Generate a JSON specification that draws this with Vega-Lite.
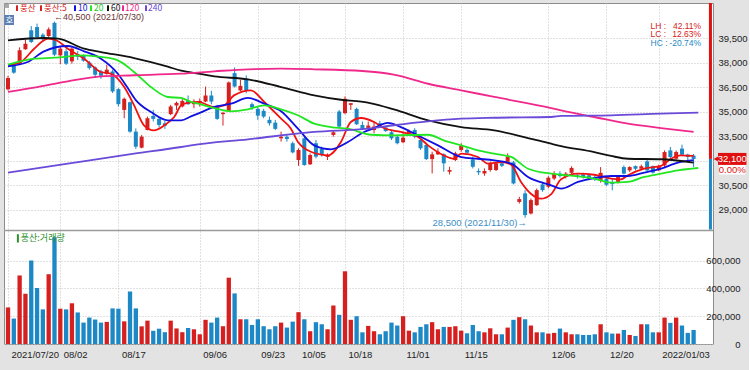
{
  "$schema": "https://vega.github.io/schema/vega-lite/v6.json",
  "background": "#e3e3e3",
  "padding": {"left": 3, "top": 1, "right": 2, "bottom": 12},
  "width": 709,
  "height": 341,
  "config": {
    "view": {"stroke": "#8c8c8c", "fill": "#ffffff"},
    "scale": {"continuousPadding": 0},
    "axis": {"labelFont": "Liberation Sans", "labelFontSize": 9.5, "labelColor": "#222222", "gridColor": "#c2c2c2", "gridDash": [1, 2], "domain": false, "ticks": false, "tickSize": 0, "labelOverlap": false, "labelFlush": false, "labelBound": false},
    "text": {"font": "Liberation Sans"}
  },
  "datasets": {
    "candles": [
      {"i":0,"d":"2021-07-20","o":36360,"h":37190,"l":36290,"c":37050,"v":263000},
      {"i":1,"d":"2021-07-21","o":37790,"h":37900,"l":37310,"c":37380,"v":183000},
      {"i":2,"d":"2021-07-22","o":37930,"h":38930,"l":37900,"c":38750,"v":493000},
      {"i":3,"d":"2021-07-23","o":38810,"h":39400,"l":38780,"c":39150,"v":361000},
      {"i":4,"d":"2021-07-26","o":39970,"h":40230,"l":39190,"c":39260,"v":600000},
      {"i":5,"d":"2021-07-27","o":40170,"h":40380,"l":39500,"c":39560,"v":402000},
      {"i":6,"d":"2021-07-28","o":39700,"h":39800,"l":39300,"c":39420,"v":249000},
      {"i":7,"d":"2021-07-29","o":39620,"h":40150,"l":39550,"c":40030,"v":502000},
      {"i":8,"d":"2021-07-30","o":40430,"h":40500,"l":38400,"c":38480,"v":768000},
      {"i":9,"d":"2021-08-02","o":38440,"h":38950,"l":37900,"c":38850,"v":254000},
      {"i":10,"d":"2021-08-03","o":38690,"h":38850,"l":37850,"c":37930,"v":249000},
      {"i":11,"d":"2021-08-04","o":38070,"h":38950,"l":37930,"c":38850,"v":293000},
      {"i":12,"d":"2021-08-05","o":38500,"h":38700,"l":38150,"c":38350,"v":227000},
      {"i":13,"d":"2021-08-06","o":38410,"h":38500,"l":38050,"c":38110,"v":154000},
      {"i":14,"d":"2021-08-09","o":38000,"h":38100,"l":37560,"c":37660,"v":190000},
      {"i":15,"d":"2021-08-10","o":37700,"h":37760,"l":37050,"c":37250,"v":176000},
      {"i":16,"d":"2021-08-11","o":37450,"h":37560,"l":37000,"c":37190,"v":154000},
      {"i":17,"d":"2021-08-12","o":37310,"h":37860,"l":37250,"c":37560,"v":159000},
      {"i":18,"d":"2021-08-13","o":37450,"h":37560,"l":36130,"c":36230,"v":256000},
      {"i":19,"d":"2021-08-17","o":36370,"h":36430,"l":35300,"c":35450,"v":254000},
      {"i":20,"d":"2021-08-18","o":35100,"h":35860,"l":34590,"c":35780,"v":163000},
      {"i":21,"d":"2021-08-19","o":35570,"h":35610,"l":33700,"c":33770,"v":378000},
      {"i":22,"d":"2021-08-20","o":33770,"h":33970,"l":32710,"c":32850,"v":256000},
      {"i":23,"d":"2021-08-23","o":32790,"h":33570,"l":32750,"c":33460,"v":127000},
      {"i":24,"d":"2021-08-24","o":33870,"h":34690,"l":33850,"c":34590,"v":168000},
      {"i":25,"d":"2021-08-25","o":34730,"h":35100,"l":34390,"c":34550,"v":95000},
      {"i":26,"d":"2021-08-26","o":34550,"h":34630,"l":34020,"c":34180,"v":110000},
      {"i":27,"d":"2021-08-27","o":34280,"h":34430,"l":33940,"c":34140,"v":85000},
      {"i":28,"d":"2021-08-30","o":34840,"h":35410,"l":34780,"c":35310,"v":168000},
      {"i":29,"d":"2021-08-31","o":35370,"h":35610,"l":35100,"c":35530,"v":112000},
      {"i":30,"d":"2021-09-01","o":35310,"h":35820,"l":35250,"c":35650,"v":85000},
      {"i":31,"d":"2021-09-02","o":35650,"h":35980,"l":35410,"c":35450,"v":115000},
      {"i":32,"d":"2021-09-03","o":35450,"h":35750,"l":35200,"c":35600,"v":106000},
      {"i":33,"d":"2021-09-06","o":35500,"h":35800,"l":35300,"c":35650,"v":70000},
      {"i":34,"d":"2021-09-07","o":35610,"h":36530,"l":35570,"c":35980,"v":174000},
      {"i":35,"d":"2021-09-08","o":35980,"h":36270,"l":35450,"c":35610,"v":154000},
      {"i":36,"d":"2021-09-09","o":35310,"h":35410,"l":34490,"c":34550,"v":190000},
      {"i":37,"d":"2021-09-10","o":34840,"h":34980,"l":34140,"c":34920,"v":128000},
      {"i":38,"d":"2021-09-13","o":35040,"h":36840,"l":35000,"c":36780,"v":477000},
      {"i":39,"d":"2021-09-14","o":37350,"h":37700,"l":36470,"c":36530,"v":364000},
      {"i":40,"d":"2021-09-15","o":36290,"h":36940,"l":36220,"c":36570,"v":178000},
      {"i":41,"d":"2021-09-16","o":37000,"h":37210,"l":36120,"c":36270,"v":178000},
      {"i":42,"d":"2021-09-17","o":35450,"h":35550,"l":35100,"c":35250,"v":137000},
      {"i":43,"d":"2021-09-23","o":35160,"h":35310,"l":34490,"c":34750,"v":178000},
      {"i":44,"d":"2021-09-24","o":35040,"h":35160,"l":34590,"c":34690,"v":128000},
      {"i":45,"d":"2021-09-27","o":34490,"h":34690,"l":34140,"c":34280,"v":106000},
      {"i":46,"d":"2021-09-28","o":34320,"h":34490,"l":33870,"c":33940,"v":128000},
      {"i":47,"d":"2021-09-29","o":33360,"h":33770,"l":33160,"c":33460,"v":154000},
      {"i":48,"d":"2021-09-30","o":33460,"h":33570,"l":33160,"c":33320,"v":118000},
      {"i":49,"d":"2021-10-01","o":33060,"h":33160,"l":32440,"c":32500,"v":161000},
      {"i":50,"d":"2021-10-05","o":32030,"h":32750,"l":31680,"c":32650,"v":229000},
      {"i":51,"d":"2021-10-06","o":33360,"h":33460,"l":31680,"c":31730,"v":178000},
      {"i":52,"d":"2021-10-07","o":31770,"h":32440,"l":31730,"c":32340,"v":92000},
      {"i":53,"d":"2021-10-08","o":33060,"h":33260,"l":32130,"c":32240,"v":157000},
      {"i":54,"d":"2021-10-12","o":32710,"h":32850,"l":32240,"c":32340,"v":142000},
      {"i":55,"d":"2021-10-13","o":32220,"h":32440,"l":32030,"c":32340,"v":106000},
      {"i":56,"d":"2021-10-14","o":33570,"h":33870,"l":33460,"c":33730,"v":277000},
      {"i":57,"d":"2021-10-15","o":35000,"h":35100,"l":33980,"c":34080,"v":210000},
      {"i":58,"d":"2021-10-18","o":34900,"h":35920,"l":34840,"c":35780,"v":523000},
      {"i":59,"d":"2021-10-19","o":35410,"h":35510,"l":35100,"c":35510,"v":174000},
      {"i":60,"d":"2021-10-20","o":35160,"h":35240,"l":34180,"c":34220,"v":200000},
      {"i":61,"d":"2021-10-21","o":34180,"h":34390,"l":33870,"c":33940,"v":84000},
      {"i":62,"d":"2021-10-22","o":34000,"h":34390,"l":33870,"c":34140,"v":130000},
      {"i":63,"d":"2021-10-25","o":33870,"h":34390,"l":33670,"c":34080,"v":92000},
      {"i":64,"d":"2021-10-26","o":34280,"h":34430,"l":34020,"c":34140,"v":70000},
      {"i":65,"d":"2021-10-27","o":34020,"h":34100,"l":33750,"c":33810,"v":92000},
      {"i":66,"d":"2021-10-28","o":33730,"h":33870,"l":33260,"c":33360,"v":154000},
      {"i":67,"d":"2021-10-29","o":33460,"h":33570,"l":32990,"c":33060,"v":133000},
      {"i":68,"d":"2021-11-01","o":33120,"h":33770,"l":33060,"c":33400,"v":200000},
      {"i":69,"d":"2021-11-02","o":33670,"h":33900,"l":33600,"c":33810,"v":96000},
      {"i":70,"d":"2021-11-03","o":33870,"h":33980,"l":33360,"c":33460,"v":84000},
      {"i":71,"d":"2021-11-04","o":33260,"h":33360,"l":32650,"c":32750,"v":123000},
      {"i":72,"d":"2021-11-05","o":32950,"h":33060,"l":32030,"c":32090,"v":142000},
      {"i":73,"d":"2021-11-08","o":32090,"h":32540,"l":31210,"c":32380,"v":157000},
      {"i":74,"d":"2021-11-09","o":32380,"h":32750,"l":32340,"c":32540,"v":106000},
      {"i":75,"d":"2021-11-10","o":32380,"h":32440,"l":31320,"c":31830,"v":123000},
      {"i":76,"d":"2021-11-11","o":31320,"h":31620,"l":31150,"c":31420,"v":123000},
      {"i":77,"d":"2021-11-12","o":32030,"h":32540,"l":31970,"c":32440,"v":128000},
      {"i":78,"d":"2021-11-15","o":32650,"h":33060,"l":32540,"c":32890,"v":96000},
      {"i":79,"d":"2021-11-16","o":32650,"h":32750,"l":32380,"c":32480,"v":77000},
      {"i":80,"d":"2021-11-17","o":32070,"h":32240,"l":31520,"c":31620,"v":137000},
      {"i":81,"d":"2021-11-18","o":31360,"h":31520,"l":31110,"c":31280,"v":92000},
      {"i":82,"d":"2021-11-19","o":31210,"h":31520,"l":31070,"c":31360,"v":84000},
      {"i":83,"d":"2021-11-22","o":31420,"h":31930,"l":31320,"c":31830,"v":113000},
      {"i":84,"d":"2021-11-23","o":31420,"h":31930,"l":31360,"c":31830,"v":70000},
      {"i":85,"d":"2021-11-24","o":31830,"h":31930,"l":31600,"c":31680,"v":70000},
      {"i":86,"d":"2021-11-25","o":31930,"h":32440,"l":31890,"c":32240,"v":118000},
      {"i":87,"d":"2021-11-26","o":31890,"h":31970,"l":30540,"c":30600,"v":174000},
      {"i":88,"d":"2021-11-29","o":29470,"h":29780,"l":29370,"c":29640,"v":193000},
      {"i":89,"d":"2021-11-30","o":29990,"h":30190,"l":28500,"c":28660,"v":178000},
      {"i":90,"d":"2021-12-01","o":28760,"h":29680,"l":28700,"c":29580,"v":133000},
      {"i":91,"d":"2021-12-02","o":29270,"h":30290,"l":29230,"c":30190,"v":84000},
      {"i":92,"d":"2021-12-03","o":30540,"h":30700,"l":30090,"c":30190,"v":84000},
      {"i":93,"d":"2021-12-06","o":30400,"h":31050,"l":30300,"c":30950,"v":75000},
      {"i":94,"d":"2021-12-07","o":30900,"h":31350,"l":30800,"c":31200,"v":80000},
      {"i":95,"d":"2021-12-08","o":31200,"h":31350,"l":30950,"c":31050,"v":111000},
      {"i":96,"d":"2021-12-09","o":31000,"h":31300,"l":30900,"c":31200,"v":84000},
      {"i":97,"d":"2021-12-10","o":31250,"h":31650,"l":31150,"c":31550,"v":70000},
      {"i":98,"d":"2021-12-13","o":31100,"h":31200,"l":30900,"c":30990,"v":70000},
      {"i":99,"d":"2021-12-14","o":31150,"h":31250,"l":30900,"c":30990,"v":65000},
      {"i":100,"d":"2021-12-15","o":31100,"h":31200,"l":30800,"c":30890,"v":65000},
      {"i":101,"d":"2021-12-16","o":31000,"h":31100,"l":30750,"c":30850,"v":70000},
      {"i":102,"d":"2021-12-17","o":30750,"h":31600,"l":30650,"c":31250,"v":142000},
      {"i":103,"d":"2021-12-20","o":30890,"h":31000,"l":30450,"c":30520,"v":84000},
      {"i":104,"d":"2021-12-21","o":30690,"h":30890,"l":30180,"c":30560,"v":75000},
      {"i":105,"d":"2021-12-22","o":30690,"h":31100,"l":30600,"c":30990,"v":75000},
      {"i":106,"d":"2021-12-23","o":31600,"h":31700,"l":31150,"c":31200,"v":101000},
      {"i":107,"d":"2021-12-24","o":31400,"h":31650,"l":31300,"c":31600,"v":65000},
      {"i":108,"d":"2021-12-27","o":31660,"h":31700,"l":31400,"c":31500,"v":58000},
      {"i":109,"d":"2021-12-28","o":31500,"h":31750,"l":31450,"c":31650,"v":142000},
      {"i":110,"d":"2021-12-29","o":31950,"h":32100,"l":31350,"c":31400,"v":142000},
      {"i":111,"d":"2021-12-30","o":31660,"h":31700,"l":31200,"c":31260,"v":84000},
      {"i":112,"d":"2022-01-03","o":31400,"h":31750,"l":31350,"c":31660,"v":84000},
      {"i":113,"d":"2022-01-04","o":31700,"h":32620,"l":31600,"c":32520,"v":190000},
      {"i":114,"d":"2022-01-05","o":32620,"h":32830,"l":32110,"c":32220,"v":152000},
      {"i":115,"d":"2022-01-06","o":32110,"h":32620,"l":32070,"c":32520,"v":190000},
      {"i":116,"d":"2022-01-07","o":32730,"h":32970,"l":32280,"c":32360,"v":133000},
      {"i":117,"d":"2022-01-10","o":32360,"h":32420,"l":32010,"c":32220,"v":80000},
      {"i":118,"d":"2022-01-11","o":32300,"h":32400,"l":31600,"c":32100,"v":101000}
    ],
    "ma": [
      {"i":0,"k":"5","v":37830},{"i":2.2,"k":"5","v":38030},{"i":4.5,"k":"5","v":38845},{"i":6.9,"k":"5","v":39460},{"i":8.3,"k":"5","v":39360},{"i":10.3,"k":"5","v":38845},{"i":13.1,"k":"5","v":38235},{"i":16,"k":"5","v":37420},{"i":17.7,"k":"5","v":37315},{"i":20,"k":"5","v":36500},{"i":21.7,"k":"5","v":35380},{"i":23.4,"k":"5","v":34155},{"i":25.1,"k":"5","v":33850},{"i":26.9,"k":"5","v":34155},{"i":28.6,"k":"5","v":34665},{"i":30,"k":"5","v":35450},{"i":32.7,"k":"5","v":35585},{"i":35.5,"k":"5","v":35280},{"i":37.2,"k":"5","v":35380},{"i":38.9,"k":"5","v":35990},{"i":41.8,"k":"5","v":36300},{"i":44.1,"k":"5","v":35585},{"i":47,"k":"5","v":34560},{"i":48.7,"k":"5","v":33950},{"i":49.9,"k":"5","v":33135},{"i":51.6,"k":"5","v":32625},{"i":53.9,"k":"5","v":32360},{"i":55.1,"k":"5","v":32320},{"i":57.3,"k":"5","v":33135},{"i":59,"k":"5","v":34360},{"i":60.8,"k":"5","v":34605},{"i":63,"k":"5","v":34360},{"i":64.7,"k":"5","v":33990},{"i":67.6,"k":"5","v":33750},{"i":70.6,"k":"5","v":33440},{"i":72.3,"k":"5","v":32930},{"i":75,"k":"5","v":32320},{"i":76.8,"k":"5","v":32110},{"i":78,"k":"5","v":32420},{"i":80.9,"k":"5","v":32215},{"i":82.6,"k":"5","v":31810},{"i":84.9,"k":"5","v":31910},{"i":86.6,"k":"5","v":31745},{"i":88.3,"k":"5","v":30690},{"i":90,"k":"5","v":29970},{"i":91.7,"k":"5","v":29665},{"i":93.5,"k":"5","v":29950},{"i":95.2,"k":"5","v":30850},{"i":98.1,"k":"5","v":31195},{"i":100.9,"k":"5","v":31130},{"i":103.8,"k":"5","v":30890},{"i":105.5,"k":"5","v":30850},{"i":106.7,"k":"5","v":31100},{"i":109.5,"k":"5","v":31505},{"i":112.4,"k":"5","v":31670},{"i":114.1,"k":"5","v":32110},{"i":115.8,"k":"5","v":32320},{"i":118,"k":"5","v":32280},
      {"i":0,"k":"10","v":37770},{"i":3.4,"k":"10","v":38030},{"i":6.2,"k":"10","v":38685},{"i":10.3,"k":"10","v":39010},{"i":13.1,"k":"10","v":38685},{"i":16,"k":"10","v":38235},{"i":18.9,"k":"10","v":37315},{"i":20.5,"k":"10","v":36500},{"i":22,"k":"10","v":35700},{"i":24.6,"k":"10","v":34970},{"i":27.5,"k":"10","v":34460},{"i":29.8,"k":"10","v":34460},{"i":31.5,"k":"10","v":34700},{"i":32.7,"k":"10","v":34870},{"i":35.5,"k":"10","v":35280},{"i":38.4,"k":"10","v":35480},{"i":41.3,"k":"10","v":35830},{"i":44.1,"k":"10","v":35480},{"i":47,"k":"10","v":35015},{"i":49.9,"k":"10","v":33950},{"i":52.7,"k":"10","v":32930},{"i":55.6,"k":"10","v":32690},{"i":58.5,"k":"10","v":33135},{"i":61.3,"k":"10","v":33750},{"i":62.5,"k":"10","v":33910},{"i":65.4,"k":"10","v":34300},{"i":67.6,"k":"10","v":34050},{"i":71.1,"k":"10","v":33440},{"i":74,"k":"10","v":32930},{"i":78,"k":"10","v":32215},{"i":80.9,"k":"10","v":32110},{"i":83.7,"k":"10","v":32010},{"i":86.6,"k":"10","v":31810},{"i":89.5,"k":"10","v":30995},{"i":93.5,"k":"10","v":30485},{"i":95.2,"k":"10","v":30280},{"i":98.1,"k":"10","v":30690},{"i":100.9,"k":"10","v":30930},{"i":103.8,"k":"10","v":31055},{"i":106.7,"k":"10","v":31055},{"i":109.5,"k":"10","v":31260},{"i":112.4,"k":"10","v":31505},{"i":115.3,"k":"10","v":31870},{"i":118,"k":"10","v":32020},
      {"i":0,"k":"20","v":37870},{"i":4.5,"k":"20","v":38235},{"i":8,"k":"20","v":38295},{"i":13.1,"k":"20","v":38440},{"i":16,"k":"20","v":38340},{"i":18.9,"k":"20","v":38135},{"i":21.7,"k":"20","v":37420},{"i":24.6,"k":"20","v":36500},{"i":27.5,"k":"20","v":35890},{"i":29.8,"k":"20","v":35830},{"i":31.5,"k":"20","v":35585},{"i":32.7,"k":"20","v":35480},{"i":35.5,"k":"20","v":35215},{"i":38.4,"k":"20","v":35015},{"i":41.3,"k":"20","v":35135},{"i":44.1,"k":"20","v":35380},{"i":47,"k":"20","v":35135},{"i":49.9,"k":"20","v":34770},{"i":52.7,"k":"20","v":34255},{"i":55.6,"k":"20","v":34050},{"i":58.5,"k":"20","v":33950},{"i":62.5,"k":"20","v":33580},{"i":66.4,"k":"20","v":33545},{"i":72.3,"k":"20","v":33580},{"i":75,"k":"20","v":33240},{"i":78,"k":"20","v":32930},{"i":80.9,"k":"20","v":32625},{"i":83.7,"k":"20","v":32420},{"i":86.6,"k":"20","v":32220},{"i":89.5,"k":"20","v":31500},{"i":93.5,"k":"20","v":31195},{"i":95.2,"k":"20","v":31130},{"i":100.9,"k":"20","v":30890},{"i":103.8,"k":"20","v":30645},{"i":106.7,"k":"20","v":30690},{"i":109.5,"k":"20","v":30995},{"i":112.4,"k":"20","v":31195},{"i":115.3,"k":"20","v":31400},{"i":118.8,"k":"20","v":31545},
      {"i":0,"k":"60","v":39360},{"i":6.2,"k":"60","v":39500},{"i":8.6,"k":"60","v":39460},{"i":13.1,"k":"60","v":38845},{"i":16,"k":"60","v":38640},{"i":21.7,"k":"60","v":38275},{"i":27.5,"k":"60","v":37750},{"i":29.8,"k":"60","v":37500},{"i":31.5,"k":"60","v":37400},{"i":35.5,"k":"60","v":37150},{"i":41.3,"k":"60","v":36970},{"i":47,"k":"60","v":36500},{"i":52.7,"k":"60","v":35990},{"i":57.3,"k":"60","v":35720},{"i":60.8,"k":"60","v":35600},{"i":62.5,"k":"60","v":35500},{"i":66.4,"k":"60","v":35130},{"i":72.3,"k":"60","v":34460},{"i":78,"k":"60","v":34050},{"i":83.7,"k":"60","v":33850},{"i":89.5,"k":"60","v":33380},{"i":93.5,"k":"60","v":33030},{"i":95.2,"k":"60","v":32890},{"i":100.9,"k":"60","v":32520},{"i":103.8,"k":"60","v":32280},{"i":106.7,"k":"60","v":32110},{"i":112.4,"k":"60","v":32080},{"i":118,"k":"60","v":31870},
      {"i":0,"k":"120","v":36195},{"i":4.5,"k":"120","v":36460},{"i":10.3,"k":"120","v":36850},{"i":16,"k":"120","v":37155},{"i":21.7,"k":"120","v":37220},{"i":29.8,"k":"120","v":37315},{"i":35.5,"k":"120","v":37460},{"i":41.3,"k":"120","v":37585},{"i":47,"k":"120","v":37620},{"i":52.7,"k":"120","v":37585},{"i":61,"k":"120","v":37480},{"i":66.4,"k":"120","v":37255},{"i":72.3,"k":"120","v":36700},{"i":78,"k":"120","v":36300},{"i":83.7,"k":"120","v":35890},{"i":93.5,"k":"120","v":35215},{"i":95.2,"k":"120","v":35075},{"i":100.9,"k":"120","v":34665},{"i":106.7,"k":"120","v":34255},{"i":112.4,"k":"120","v":33990},{"i":118,"k":"120","v":33750},
      {"i":0,"k":"240","v":31260},{"i":10.3,"k":"240","v":31810},{"i":21.7,"k":"240","v":32420},{"i":29.8,"k":"240","v":32830},{"i":31.5,"k":"240","v":32930},{"i":41.3,"k":"240","v":33300},{"i":52.7,"k":"240","v":33750},{"i":62,"k":"240","v":33950},{"i":66.4,"k":"240","v":34160},{"i":72.3,"k":"240","v":34400},{"i":78,"k":"240","v":34560},{"i":83.7,"k":"240","v":34620},{"i":93.5,"k":"240","v":34665},{"i":95.2,"k":"240","v":34730},{"i":103.8,"k":"240","v":34770},{"i":112.4,"k":"240","v":34870},{"i":118.8,"k":"240","v":34930}
    ]
  },
  "resolve": {"scale": {"y": "independent"}},
  "layer": [
    {
      "layer": [
        {
          "data": {"name": "candles"},
          "mark": {"type": "rule", "strokeWidth": 1},
          "encoding": {
            "x": {"field": "i", "type": "quantitative", "scale": {"domain": [-0.69, 121.34], "nice": false, "zero": false, "padding": 0},
                  "axis": {"values": [0, 9, 19, 33, 43, 50, 58, 68, 78, 93, 103, 112], "tickCount": 40, "grid": true, "title": null, "labelAlign": "left", "labelBaseline": "top", "labelOffset": 3, "labelPadding": 5, "labelOverlap": false,
                           "labelExpr": "['2021/07/20','08/02','08/17','09/06','09/23','10/05','10/18','11/01','11/15','12/06','12/20','2022/01/03'][indexof([0,9,19,33,43,50,58,68,78,93,103,112], datum.value)]"}},
            "y": {"field": "l", "type": "quantitative", "scale": {"domain": [20773, 41642], "nice": false, "zero": false, "padding": 0},
                  "axis": {"orient": "right", "values": [29000, 30500, 32000, 33500, 35000, 36500, 38000, 39500], "tickCount": 40, "grid": true, "title": null, "labelAlign": "right", "labelPadding": 34, "labelOverlap": false, "labelExpr": "datum.value == 32000 ? '' : format(datum.value, ',')"}},
            "y2": {"field": "h"},
            "color": {"condition": {"test": "datum.c >= datum.o", "value": "#d62020"}, "value": "#1c88c6"}
          }
        },
        {
          "data": {"name": "candles"},
          "mark": {"type": "bar", "size": 4},
          "encoding": {
            "x": {"field": "i", "type": "quantitative"},
            "y": {"field": "o", "type": "quantitative"},
            "y2": {"field": "c"},
            "color": {"condition": {"test": "datum.c >= datum.o", "value": "#d62020"}, "value": "#1c88c6"}
          }
        },
        {
          "data": {"name": "ma"},
          "mark": {"type": "line", "interpolate": "monotone"},
          "encoding": {
            "x": {"field": "i", "type": "quantitative"},
            "y": {"field": "v", "type": "quantitative"},
            "color": {"field": "k", "type": "nominal", "scale": {"domain": ["5", "10", "20", "60", "120", "240"], "range": ["#f01212", "#1010e0", "#22e622", "#111111", "#f0288c", "#6a4ad8"]}, "legend": null},
            "strokeWidth": {"field": "k", "type": "nominal", "scale": {"domain": ["5", "10", "20", "60", "120", "240"], "range": [1.8, 1.8, 1.8, 1.5, 1.6, 1.5]}, "legend": null}
          }
        },
        {"data": {"values": [{}]}, "mark": {"type": "rule", "color": "#9a9a9a", "strokeWidth": 1.5}, "encoding": {"y": {"datum": 27719}}},
        {"data": {"values": [{}]}, "mark": {"type": "rule", "color": "#e01010", "strokeWidth": 3}, "encoding": {"x": {"datum": 120.9}, "y": {"datum": 41642}, "y2": {"datum": 32100}}},
        {"data": {"values": [{}]}, "mark": {"type": "rule", "color": "#1c88c6", "strokeWidth": 3}, "encoding": {"x": {"datum": 120.9}, "y": {"datum": 32100}, "y2": {"datum": 27780}}},
        {"data": {"values": [{}]}, "mark": {"type": "rect", "color": "#e01010"}, "encoding": {"x": {"datum": 122.2}, "x2": {"datum": 127.1}, "y": {"datum": 32467}, "y2": {"datum": 31733}}},
        {"data": {"values": [{}]}, "mark": {"type": "point", "shape": "triangle-left", "filled": true, "color": "#e01010", "size": 36, "opacity": 1}, "encoding": {"x": {"datum": 121.9}, "y": {"datum": 32100}}},
        {"data": {"values": [{}]}, "mark": {"type": "text", "text": "32,100", "color": "#ffffff", "fontSize": 9.5}, "encoding": {"x": {"datum": 124.65}, "y": {"datum": 32100}}},
        {"data": {"values": [{}]}, "mark": {"type": "rect", "color": "#ffffff"}, "encoding": {"x": {"datum": 122.4}, "x2": {"datum": 126.9}, "y": {"datum": 31728}, "y2": {"datum": 31146}}},
        {"data": {"values": [{}]}, "mark": {"type": "text", "text": "0.00%", "color": "#e01010", "fontSize": 9.5}, "encoding": {"x": {"datum": 124.65}, "y": {"datum": 31430}}},
        {"data": {"values": [{}]}, "mark": {"type": "rect", "color": "#a8a8a8"}, "encoding": {"x": {"datum": -0.6}, "x2": {"datum": 0.17}, "y": {"datum": 41580}, "y2": {"datum": 41340}}},
        {"data": {"values": [{}]}, "mark": {"type": "rect", "color": "#5a7fb5"}, "encoding": {"x": {"datum": -0.6}, "x2": {"datum": 1.03}, "y": {"datum": 40908}, "y2": {"datum": 40296}}},
        {"data": {"values": [{}]}, "mark": {"type": "text", "text": "호", "color": "#ffffff", "font": "Noto Sans CJK KR", "fontSize": 8.5}, "encoding": {"x": {"datum": 0.22}, "y": {"datum": 40600}}},
        {"data": {"values": [{}]}, "mark": {"type": "rule", "color": "#d62020", "strokeWidth": 2}, "encoding": {"x": {"datum": 1.55}, "y": {"datum": 41500}, "y2": {"datum": 41150}}},
        {"data": {"values": [{}]}, "mark": {"type": "rule", "color": "#d62020", "strokeWidth": 2}, "encoding": {"x": {"datum": 5.68}, "y": {"datum": 41500}, "y2": {"datum": 41150}}},
        {"data": {"values": [{}]}, "mark": {"type": "rule", "color": "#1010e0", "strokeWidth": 2}, "encoding": {"x": {"datum": 11.53}, "y": {"datum": 41500}, "y2": {"datum": 41150}}},
        {"data": {"values": [{}]}, "mark": {"type": "rule", "color": "#22e622", "strokeWidth": 2}, "encoding": {"x": {"datum": 14.29}, "y": {"datum": 41500}, "y2": {"datum": 41150}}},
        {"data": {"values": [{}]}, "mark": {"type": "rule", "color": "#111111", "strokeWidth": 2}, "encoding": {"x": {"datum": 17.21}, "y": {"datum": 41500}, "y2": {"datum": 41150}}},
        {"data": {"values": [{}]}, "mark": {"type": "rule", "color": "#f0288c", "strokeWidth": 2}, "encoding": {"x": {"datum": 19.79}, "y": {"datum": 41500}, "y2": {"datum": 41150}}},
        {"data": {"values": [{}]}, "mark": {"type": "rule", "color": "#6a4ad8", "strokeWidth": 2}, "encoding": {"x": {"datum": 23.75}, "y": {"datum": 41500}, "y2": {"datum": 41150}}},
        {"data": {"values": [{}]}, "mark": {"type": "text", "text": "풍산", "color": "#d62020", "align": "left", "font": "Noto Sans CJK KR", "fontSize": 8.5}, "encoding": {"x": {"datum": 2.07}, "y": {"datum": 41336}}},
        {"data": {"values": [{}]}, "mark": {"type": "text", "text": "풍산:5", "color": "#d62020", "align": "left", "font": "Noto Sans CJK KR", "fontSize": 8.5}, "encoding": {"x": {"datum": 6.2}, "y": {"datum": 41336}}},
        {"data": {"values": [{}]}, "mark": {"type": "text", "text": "10", "color": "#1010e0", "align": "left", "font": "Noto Sans CJK KR", "fontSize": 8.5}, "encoding": {"x": {"datum": 12.05}, "y": {"datum": 41336}}},
        {"data": {"values": [{}]}, "mark": {"type": "text", "text": "20", "color": "#22c822", "align": "left", "font": "Noto Sans CJK KR", "fontSize": 8.5}, "encoding": {"x": {"datum": 14.8}, "y": {"datum": 41336}}},
        {"data": {"values": [{}]}, "mark": {"type": "text", "text": "60", "color": "#111111", "align": "left", "font": "Noto Sans CJK KR", "fontSize": 8.5}, "encoding": {"x": {"datum": 17.73}, "y": {"datum": 41336}}},
        {"data": {"values": [{}]}, "mark": {"type": "text", "text": "120", "color": "#f0288c", "align": "left", "font": "Noto Sans CJK KR", "fontSize": 8.5}, "encoding": {"x": {"datum": 20.14}, "y": {"datum": 41336}}},
        {"data": {"values": [{}]}, "mark": {"type": "text", "text": "240", "color": "#6a4ad8", "align": "left", "font": "Noto Sans CJK KR", "fontSize": 8.5}, "encoding": {"x": {"datum": 24.1}, "y": {"datum": 41336}}},
        {"data": {"values": [{}]}, "mark": {"type": "text", "text": "←40,500 (2021/07/30)", "color": "#6b3434", "align": "left", "fontSize": 9, "dy": -4.5}, "encoding": {"x": {"datum": 7.9}, "y": {"datum": 40500}}},
        {"data": {"values": [{}]}, "mark": {"type": "text", "text": "28,500 (2021/11/30)→", "color": "#3b8ec7", "align": "right", "fontSize": 9.5, "dy": 5}, "encoding": {"x": {"datum": 89.3}, "y": {"datum": 28500}}},
        {"data": {"values": [{}]}, "mark": {"type": "text", "text": "LH :", "color": "#d62020", "align": "left", "fontSize": 8.5}, "encoding": {"x": {"datum": 110.6}, "y": {"datum": 40265}}},
        {"data": {"values": [{}]}, "mark": {"type": "text", "text": "42.11%", "color": "#d62020", "align": "right", "fontSize": 8.5}, "encoding": {"x": {"datum": 119.3}, "y": {"datum": 40265}}},
        {"data": {"values": [{}]}, "mark": {"type": "text", "text": "LC :", "color": "#d62020", "align": "left", "fontSize": 8.5}, "encoding": {"x": {"datum": 110.6}, "y": {"datum": 39745}}},
        {"data": {"values": [{}]}, "mark": {"type": "text", "text": "12.63%", "color": "#d62020", "align": "right", "fontSize": 8.5}, "encoding": {"x": {"datum": 119.3}, "y": {"datum": 39745}}},
        {"data": {"values": [{}]}, "mark": {"type": "text", "text": "HC :", "color": "#1c88c6", "align": "left", "fontSize": 8.5}, "encoding": {"x": {"datum": 110.6}, "y": {"datum": 39220}}},
        {"data": {"values": [{}]}, "mark": {"type": "text", "text": "-20.74%", "color": "#1c88c6", "align": "right", "fontSize": 8.5}, "encoding": {"x": {"datum": 119.3}, "y": {"datum": 39220}}}
      ]
    },
    {
      "layer": [
        {
          "data": {"name": "candles"},
          "mark": {"type": "bar", "size": 4.3},
          "encoding": {
            "x": {"field": "i", "type": "quantitative"},
            "y": {"field": "v", "type": "quantitative", "scale": {"domain": [0, 2453000], "nice": false, "padding": 0},
                  "axis": {"orient": "right", "values": [0, 200000, 400000, 600000], "tickCount": 40, "labelExpr": "format(datum.value, ',')", "grid": true, "title": null, "labelAlign": "right", "labelPadding": 27, "labelOverlap": false}},
            "color": {"condition": {"test": "datum.c >= datum.o", "value": "#d62020"}, "value": "#1c88c6"}
          }
        },
        {"data": {"values": [{}]}, "mark": {"type": "rule", "color": "#2f8f2f", "strokeWidth": 2}, "encoding": {"x": {"datum": 1.7}, "y": {"datum": 790000}, "y2": {"datum": 730000}}},
        {"data": {"values": [{}]}, "mark": {"type": "text", "text": "풍산:거래량", "color": "#2f8f2f", "align": "left", "font": "Noto Sans CJK KR", "fontSize": 9}, "encoding": {"x": {"datum": 2.2}, "y": {"datum": 760000}}}
      ]
    }
  ]
}
